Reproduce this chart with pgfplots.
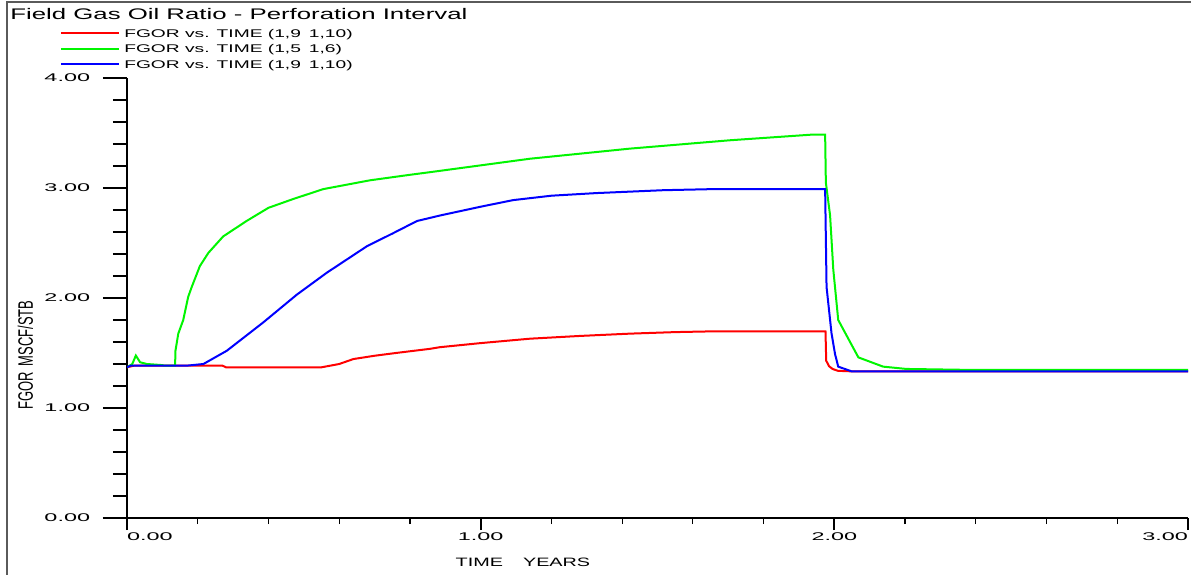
\documentclass[border=0pt]{standalone}
\usepackage{pgfplots}
\pgfplotsset{compat=1.18}
\usepackage{fontspec}
\setmainfont{Liberation Sans}
\newfontfamily\titlef[FakeStretch=1.68]{Liberation Sans}
\newfontfamily\legf[FakeStretch=1.72]{Liberation Sans}
\newfontfamily\tickf[FakeStretch=2.1]{Liberation Sans}
\newfontfamily\xlabf[FakeStretch=1.63]{Liberation Sans}
\newfontfamily\ylabf[FakeStretch=0.62]{Liberation Sans}
\definecolor{cred}{RGB}{255,0,0}
\definecolor{cgreen}{RGB}{0,245,0}
\definecolor{cblue}{RGB}{0,0,255}
\definecolor{frame}{RGB}{90,90,90}
\begin{document}
\begin{tikzpicture}
\useasboundingbox (0,0) rectangle (595.5bp,287.5bp);
\draw[line width=1bp, frame] (3.5bp,0) -- (3.5bp,286.5bp) -- (595.5bp,286.5bp);
\node[anchor=base west, inner sep=0pt, font=\titlef\fontsize{7.7}{9}\selectfont] at (5bp,277.5bp) {Field Gas Oil Ratio - Perforation Interval};
\begin{axis}[
  at={(63.5bp,28.5bp)}, anchor=south west,
  scale only axis, width=530.5bp, height=220bp,
  xmin=0, xmax=3, ymin=0, ymax=4,
  axis x line=bottom, axis y line=left,
  x axis line style={-, line width=1bp, shorten <=-12bp},
  y axis line style={-, line width=1bp, shorten <=-5.5bp},
  tick align=outside,
  xtick={0,1,2,3}, ytick={0,1,2,3,4},
  minor x tick num=4, minor y tick num=4,
  xtick style={/pgfplots/major tick length=6bp, /pgfplots/minor tick length=3bp, black},
  ytick style={/pgfplots/major tick length=12bp, /pgfplots/minor tick length=7bp, black},
  major tick style={line width=1bp},
  minor tick style={line width=0.6bp},
  xticklabels={{\rlap{0.00}},1.00,2.00,{\llap{3.00}}},
  yticklabels={0.00,1.00,2.00,3.00,4.00},
  xticklabel style={font=\tickf\fontsize{5.6}{6}\selectfont, inner sep=0pt, anchor=north, yshift=-3bp},
  yticklabel style={font=\tickf\fontsize{5.6}{6}\selectfont, inner sep=0pt, anchor=east, xshift=-14bp},
  xlabel={TIME\hspace{10bp}YEARS},
  xlabel style={font=\xlabf\fontsize{6.1}{7}\selectfont, at={(axis description cs:0.3732,-0.1)}, anchor=center},
  ylabel={FGOR\hspace{3bp}MSCF/STB},
  ylabel style={font=\ylabf\fontsize{10.5}{12}\selectfont, at={(axis description cs:-0.0957,0.3705)}, anchor=center},
  legend cell align=left,
  legend style={at={(axis description cs:-0.0632,1.067)}, anchor=west, draw=none, fill=none, inner sep=0pt,
    row sep=3.75bp, column sep=2bp, font=\legf\fontsize{5.6}{6}\selectfont,
    nodes={inner sep=0pt, text height=4bp, text depth=0pt}},
  legend image code/.code={\draw[#1] (0bp,0bp) -- (29bp,0bp);},
  every axis plot/.append style={line width=1bp},
]
\addplot[cred] coordinates {
(0,1.37) (0.02,1.385) (0.27,1.385) (0.28,1.37) (0.55,1.37) (0.60,1.40) (0.64,1.445)
(0.70,1.475) (0.76,1.50) (0.857,1.538) (0.885,1.553) (1.0,1.59) (1.139,1.63) (1.28,1.655)
(1.422,1.676) (1.55,1.69) (1.658,1.697) (1.975,1.697) (1.977,1.43) (1.985,1.38)
(1.995,1.355) (2.01,1.338) (2.05,1.333) (3.0,1.333)};
\addlegendentry{FGOR vs. TIME (1,9\hspace{4bp}1,10)}
\addplot[cgreen] coordinates {
(0,1.37) (0.015,1.40) (0.025,1.477) (0.037,1.416) (0.056,1.40) (0.10,1.39) (0.105,1.385)
(0.136,1.385) (0.137,1.52) (0.145,1.676) (0.159,1.80) (0.173,2.01) (0.183,2.10)
(0.206,2.29) (0.230,2.41) (0.272,2.56) (0.338,2.70) (0.400,2.82) (0.470,2.90)
(0.555,2.99) (0.687,3.07) (0.80,3.12) (0.857,3.144) (1.139,3.266) (1.422,3.358)
(1.705,3.434) (1.94,3.486) (1.974,3.486) (1.976,3.05) (1.988,2.75) (1.997,2.26)
(2.011,1.80) (2.068,1.46) (2.138,1.376) (2.204,1.355) (2.39,1.346) (3.0,1.346)};
\addlegendentry{FGOR vs. TIME (1,5\hspace{4bp}1,6)}
\addplot[cblue] coordinates {
(0,1.37) (0.01,1.385) (0.169,1.385) (0.216,1.40) (0.282,1.52) (0.386,1.78) (0.48,2.03)
(0.565,2.23) (0.678,2.47) (0.753,2.59) (0.82,2.70) (0.885,2.75) (1.0,2.83) (1.092,2.89)
(1.2,2.93) (1.328,2.954) (1.516,2.98) (1.658,2.99) (1.974,2.99) (1.978,2.10)
(1.986,1.86) (1.992,1.68) (2.002,1.49) (2.011,1.376) (2.049,1.333) (3.0,1.333)};
\addlegendentry{FGOR vs. TIME (1,9\hspace{4bp}1,10)}
\end{axis}
\end{tikzpicture}
\end{document}
